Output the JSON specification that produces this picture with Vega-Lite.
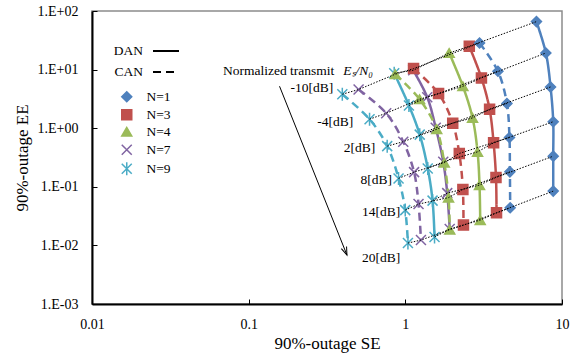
{
  "$schema": "https://vega.github.io/schema/vega-lite/v6.json",
  "width": 470,
  "height": 293,
  "autosize": "none",
  "padding": {"left": 92, "top": 11, "right": 17, "bottom": 49},
  "background": "white",
  "config": {
    "font": "Liberation Serif",
    "view": {"stroke": "#8c8c8c", "strokeWidth": 1.5},
    "axis": {
      "grid": false, "domainColor": "black", "domainWidth": 2,
      "tickColor": "black", "tickSize": -5, "tickWidth": 1,
      "labelFont": "Liberation Serif", "labelFontSize": 14, "labelColor": "black",
      "labelFlush": false, "labelOverlap": false,
      "titleFont": "Liberation Serif", "titleFontSize": 17, "titleFontWeight": "normal", "titleColor": "black"
    },
    "legend": {"labelFont": "Liberation Serif", "labelColor": "black"},
    "text": {"font": "Liberation Serif"}
  },
  "datasets": {
    "curves": [
      {"N": 1, "scheme": "DAN", "snr": -10, "SE": 6.87, "EE": 65.9},
      {"N": 1, "scheme": "DAN", "snr": -4, "SE": 7.89, "EE": 19.2},
      {"N": 1, "scheme": "DAN", "snr": 2, "SE": 8.45, "EE": 5.06},
      {"N": 1, "scheme": "DAN", "snr": 8, "SE": 8.79, "EE": 1.29},
      {"N": 1, "scheme": "DAN", "snr": 14, "SE": 8.79, "EE": 0.333},
      {"N": 1, "scheme": "DAN", "snr": 20, "SE": 8.79, "EE": 0.0844},
      {"N": 3, "scheme": "DAN", "snr": -10, "SE": 2.56, "EE": 25.0},
      {"N": 3, "scheme": "DAN", "snr": -4, "SE": 3.06, "EE": 7.21},
      {"N": 3, "scheme": "DAN", "snr": 2, "SE": 3.45, "EE": 2.11},
      {"N": 3, "scheme": "DAN", "snr": 8, "SE": 3.66, "EE": 0.562},
      {"N": 3, "scheme": "DAN", "snr": 14, "SE": 3.79, "EE": 0.1445},
      {"N": 3, "scheme": "DAN", "snr": 20, "SE": 3.82, "EE": 0.036},
      {"N": 4, "scheme": "DAN", "snr": -10, "SE": 1.905, "EE": 19.2},
      {"N": 4, "scheme": "DAN", "snr": -4, "SE": 2.33, "EE": 5.2},
      {"N": 4, "scheme": "DAN", "snr": 2, "SE": 2.685, "EE": 1.5},
      {"N": 4, "scheme": "DAN", "snr": 8, "SE": 2.89, "EE": 0.395},
      {"N": 4, "scheme": "DAN", "snr": 14, "SE": 2.975, "EE": 0.107},
      {"N": 4, "scheme": "DAN", "snr": 20, "SE": 3.006, "EE": 0.027},
      {"N": 7, "scheme": "DAN", "snr": -10, "SE": 1.123, "EE": 9.75},
      {"N": 7, "scheme": "DAN", "snr": -4, "SE": 1.38, "EE": 3.38},
      {"N": 7, "scheme": "DAN", "snr": 2, "SE": 1.563, "EE": 1.02},
      {"N": 7, "scheme": "DAN", "snr": 8, "SE": 1.746, "EE": 0.267},
      {"N": 7, "scheme": "DAN", "snr": 14, "SE": 1.851, "EE": 0.078},
      {"N": 7, "scheme": "DAN", "snr": 20, "SE": 1.92, "EE": 0.019},
      {"N": 9, "scheme": "DAN", "snr": -10, "SE": 0.849, "EE": 8.67},
      {"N": 9, "scheme": "DAN", "snr": -4, "SE": 1.054, "EE": 2.44},
      {"N": 9, "scheme": "DAN", "snr": 2, "SE": 1.236, "EE": 0.776},
      {"N": 9, "scheme": "DAN", "snr": 8, "SE": 1.39, "EE": 0.206},
      {"N": 9, "scheme": "DAN", "snr": 14, "SE": 1.492, "EE": 0.0581},
      {"N": 9, "scheme": "DAN", "snr": 20, "SE": 1.536, "EE": 0.01387},
      {"N": 1, "scheme": "CAN", "snr": -10, "SE": 2.976, "EE": 28.5},
      {"N": 1, "scheme": "CAN", "snr": -4, "SE": 3.9, "EE": 9.38},
      {"N": 1, "scheme": "CAN", "snr": 2, "SE": 4.45, "EE": 2.64},
      {"N": 1, "scheme": "CAN", "snr": 8, "SE": 4.62, "EE": 0.695},
      {"N": 1, "scheme": "CAN", "snr": 14, "SE": 4.65, "EE": 0.18},
      {"N": 1, "scheme": "CAN", "snr": 20, "SE": 4.67, "EE": 0.0438},
      {"N": 3, "scheme": "CAN", "snr": -10, "SE": 1.128, "EE": 10.4},
      {"N": 3, "scheme": "CAN", "snr": -4, "SE": 1.63, "EE": 3.91},
      {"N": 3, "scheme": "CAN", "snr": 2, "SE": 2.007, "EE": 1.22},
      {"N": 3, "scheme": "CAN", "snr": 8, "SE": 2.21, "EE": 0.371},
      {"N": 3, "scheme": "CAN", "snr": 14, "SE": 2.33, "EE": 0.0902},
      {"N": 3, "scheme": "CAN", "snr": 20, "SE": 2.35, "EE": 0.0222},
      {"N": 4, "scheme": "CAN", "snr": -10, "SE": 0.862, "EE": 8.34},
      {"N": 4, "scheme": "CAN", "snr": -4, "SE": 1.233, "EE": 3.12},
      {"N": 4, "scheme": "CAN", "snr": 2, "SE": 1.586, "EE": 0.962},
      {"N": 4, "scheme": "CAN", "snr": 8, "SE": 1.772, "EE": 0.258},
      {"N": 4, "scheme": "CAN", "snr": 14, "SE": 1.887, "EE": 0.0654},
      {"N": 4, "scheme": "CAN", "snr": 20, "SE": 1.92, "EE": 0.0186},
      {"N": 7, "scheme": "CAN", "snr": -10, "SE": 0.503, "EE": 4.57},
      {"N": 7, "scheme": "CAN", "snr": -4, "SE": 0.755, "EE": 1.8},
      {"N": 7, "scheme": "CAN", "snr": 2, "SE": 0.97, "EE": 0.589},
      {"N": 7, "scheme": "CAN", "snr": 8, "SE": 1.137, "EE": 0.178},
      {"N": 7, "scheme": "CAN", "snr": 14, "SE": 1.214, "EE": 0.0507},
      {"N": 7, "scheme": "CAN", "snr": 20, "SE": 1.258, "EE": 0.01233},
      {"N": 9, "scheme": "CAN", "snr": -10, "SE": 0.396, "EE": 3.8},
      {"N": 9, "scheme": "CAN", "snr": -4, "SE": 0.591, "EE": 1.425},
      {"N": 9, "scheme": "CAN", "snr": 2, "SE": 0.766, "EE": 0.494},
      {"N": 9, "scheme": "CAN", "snr": 8, "SE": 0.905, "EE": 0.139},
      {"N": 9, "scheme": "CAN", "snr": 14, "SE": 0.9986, "EE": 0.04},
      {"N": 9, "scheme": "CAN", "snr": 20, "SE": 1.039, "EE": 0.01096}
    ],
    "snrLabels": [
      {"text": "-10[dB]", "SE": 0.347, "EE": 4.81},
      {"text": "-4[dB]", "SE": 0.465, "EE": 1.29},
      {"text": "2[dB]", "SE": 0.643, "EE": 0.451},
      {"text": "8[dB]", "SE": 0.821, "EE": 0.13},
      {"text": "14[dB]", "SE": 0.928, "EE": 0.037},
      {"text": "20[dB]", "SE": 0.928, "EE": 0.00601}
    ],
    "notes": [
      {"text": "Normalized transmit", "SE": 0.0686, "EE": 9.56},
      {"text": "Eₛ/N₀", "SE": 0.402, "EE": 9.56}
    ],
    "arrow": [
      {"SE0": 0.1574, "EE0": 5.2, "SE": 0.424, "EE": 0.00684}
    ]
  },
  "encoding": {
    "x": {"field": "SE", "type": "quantitative",
      "scale": {"type": "log", "domain": [0.01, 10]},
      "axis": {"title": "90%-outage SE", "values": [0.01, 0.1, 1, 10], "format": "~g", "labelPadding": 18, "titlePadding": 4, "labelFont": "Liberation Serif", "titleFont": "Liberation Serif", "labelFlush": false}},
    "y": {"field": "EE", "type": "quantitative",
      "scale": {"type": "log", "domain": [0.001, 100]},
      "axis": {"title": "90%-outage EE", "values": [0.001, 0.01, 0.1, 1, 10, 100],
        "labelExpr": "'1.E' + (datum.value >= 1 ? '+' : '-') + '0' + format(abs(round(log(datum.value) / LN10)), 'd')",
        "labelPadding": 19, "titlePadding": 6, "labelFont": "Liberation Serif", "titleFont": "Liberation Serif", "labelFlush": false}}
  },
  "layer": [
    {
      "data": {"name": "curves"},
      "mark": {"type": "line", "interpolate": "catmull-rom", "strokeWidth": 2.5},
      "encoding": {
        "color": {"field": "N", "type": "nominal",
          "scale": {"domain": [1, 3, 4, 7, 9], "range": ["#4F81BD", "#C0504D", "#9BBB59", "#8064A2", "#4BACC6"]},
          "legend": {"title": null, "orient": "none", "legendX": 28, "legendY": 79, "padding": 0, "labelExpr": "'N=' + datum.label", "labelFont": "Liberation Serif", "labelFontSize": 13.5, "labelOffset": 13, "rowPadding": 1, "symbolSize": 100, "symbolStrokeWidth": 1.5}},
        "strokeDash": {"field": "scheme", "type": "nominal",
          "scale": {"domain": ["DAN", "CAN"], "range": [[1, 0], [8, 5]]},
          "legend": {"title": null, "orient": "none", "legendX": 60, "legendY": 26, "padding": 0, "symbolType": "stroke", "symbolSize": 676, "symbolStrokeWidth": 2, "symbolStrokeColor": "black", "labelAlign": "right", "labelOffset": -37, "rowPadding": -11, "labelFont": "Liberation Serif", "labelFontSize": 13.5,
            "encode": {"symbols": {"update": {"stroke": {"value": "black"}, "strokeDash": {"signal": "datum.value === 'CAN' ? [2.5, 1.5] : [1, 0]"}}}}}},
        "order": {"field": "snr", "type": "quantitative"}
      }
    },
    {
      "data": {"name": "curves"},
      "mark": {"type": "point", "filled": false, "size": 100, "strokeWidth": 1.5, "opacity": 1},
      "encoding": {
        "color": {"field": "N", "type": "nominal",
          "scale": {"domain": [1, 3, 4, 7, 9], "range": ["#4F81BD", "#C0504D", "#9BBB59", "#8064A2", "#4BACC6"]},
          "legend": {"title": null, "orient": "none", "legendX": 28, "legendY": 79, "padding": 0, "labelExpr": "'N=' + datum.label", "labelFont": "Liberation Serif", "labelFontSize": 13.5, "labelOffset": 13, "rowPadding": 1, "symbolSize": 100, "symbolStrokeWidth": 1.5}},
        "fill": {"field": "N", "type": "nominal",
          "scale": {"domain": [1, 3, 4, 7, 9], "range": ["#4F81BD", "#C0504D", "#9BBB59", "#8064A2", "#4BACC6"]},
          "legend": {"title": null, "orient": "none", "legendX": 28, "legendY": 79, "padding": 0, "labelExpr": "'N=' + datum.label", "labelFont": "Liberation Serif", "labelFontSize": 13.5, "labelOffset": 13, "rowPadding": 1, "symbolSize": 100, "symbolStrokeWidth": 1.5}},
        "shape": {"field": "N", "type": "nominal",
          "scale": {"domain": [1, 3, 4, 7, 9], "range": ["diamond", "square", "triangle-up", "M-1,-1L1,1M-1,1L1,-1", "M-1,-1L1,1M-1,1L1,-1M0,-1.3L0,1.3"]},
          "legend": {"title": null, "orient": "none", "legendX": 28, "legendY": 79, "padding": 0, "labelExpr": "'N=' + datum.label", "labelFont": "Liberation Serif", "labelFontSize": 13.5, "labelOffset": 13, "rowPadding": 1, "symbolSize": 100, "symbolStrokeWidth": 1.5}}
      }
    },
    {
      "data": {"name": "curves"},
      "mark": {"type": "line", "stroke": "black", "strokeWidth": 1, "strokeDash": [1.5, 1.5]},
      "encoding": {
        "detail": [{"field": "snr", "type": "nominal"}, {"field": "scheme", "type": "nominal"}],
        "order": {"field": "SE", "type": "quantitative"}
      }
    },
    {
      "data": {"name": "snrLabels"},
      "mark": {"type": "text", "align": "right", "baseline": "middle", "fontSize": 13.5, "font": "Liberation Serif", "color": "black"},
      "encoding": {"text": {"field": "text", "type": "nominal"}}
    },
    {
      "data": {"name": "notes"},
      "transform": [{"filter": "datum.text === 'Normalized transmit'"}],
      "mark": {"type": "text", "align": "left", "baseline": "middle", "fontSize": 13.5, "font": "Liberation Serif", "color": "black"},
      "encoding": {"text": {"field": "text", "type": "nominal"}}
    },
    {
      "data": {"name": "notes"},
      "transform": [{"filter": "datum.text !== 'Normalized transmit'"}],
      "mark": {"type": "text", "align": "left", "baseline": "middle", "fontSize": 13.5, "fontStyle": "italic", "font": "Liberation Serif", "color": "black"},
      "encoding": {"text": {"field": "text", "type": "nominal"}}
    },
    {
      "data": {"name": "arrow"},
      "mark": {"type": "rule", "color": "black", "strokeWidth": 1},
      "encoding": {
        "x": {"field": "SE0", "type": "quantitative"},
        "y": {"field": "EE0", "type": "quantitative"},
        "x2": {"field": "SE"},
        "y2": {"field": "EE"}
      }
    },
    {
      "data": {"name": "arrow"},
      "mark": {"type": "point", "shape": "M-0.35,-1L0,0L0.35,-1", "size": 256, "angle": 338, "filled": false, "stroke": "black", "strokeWidth": 1, "opacity": 1},
      "encoding": {}
    }
  ]
}
